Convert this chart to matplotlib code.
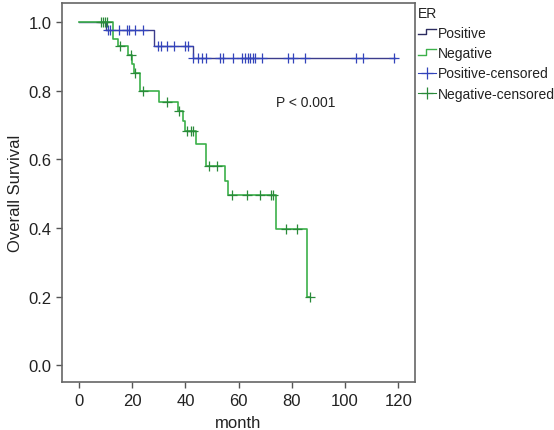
import matplotlib
matplotlib.use("Agg")
import matplotlib.pyplot as plt
from matplotlib.lines import Line2D
from matplotlib.legend_handler import HandlerBase

plt.rcParams['font.family'] = ['Liberation Sans', 'DejaVu Sans']

# ER positive: step curve (event times, survival after event)
pos_step_x = [0, 10.2, 28.3, 42.7, 118.8]
pos_step_y = [1.0, 0.978, 0.930, 0.895, 0.895]
pos_cens_x = [11, 11.7, 15, 17.9, 18.8, 21, 24.2,
              29.8, 30.7, 33, 35.8, 40, 40.8,
              43, 44.6, 46.1, 47.6, 53, 54, 58, 61.2, 62.5, 63.4, 64.3,
              65.3, 66.1, 68.9, 78.7, 80.6, 85, 104.1, 106.9, 118.5]
pos_cens_y = [0.978] * 7 + [0.930] * 6 + [0.895] * 20

# ER negative
neg_step_x = [0, 12.9, 14.5, 18.5, 20.0, 20.8, 22.9, 30.1, 37.3, 39.0,
              39.8, 43.9, 47.7, 54.9, 56.1, 74.1, 85.8, 86.8]
neg_step_y = [1.0, 0.951, 0.929, 0.903, 0.878, 0.851, 0.799, 0.768, 0.742,
              0.713, 0.682, 0.645, 0.580, 0.538, 0.497, 0.396, 0.200, 0.200]
neg_cens_x = [8.3, 9.0, 9.8, 10.6, 15.4, 19.6, 21.0, 24.2, 33.2, 37.7,
              40.7, 42, 43, 49, 52, 57.6, 63, 68, 72.2, 73, 77.8, 81.8, 86.8]
neg_cens_y = [1.0] * 4 + [0.929, 0.903, 0.851, 0.799, 0.768, 0.742] + \
             [0.682] * 3 + [0.580] * 2 + [0.497] * 5 + [0.396] * 2 + [0.200]

x_ticks = [0, 20, 40, 60, 80, 100, 120]
y_ticks = [0.0, 0.2, 0.4, 0.6, 0.8, 1.0]

pos_line_c = '#3c3c8c'
pos_cens_c = '#3344bb'
neg_line_c = '#3cb04a'
neg_cens_c = '#2a8a3a'


class StepHandler(HandlerBase):
    # little step icon like the SPSS legend
    def create_artists(self, legend, orig, xd, yd, w, h, fontsize, trans):
        xs = [xd, xd + w * 0.45, xd + w * 0.45, xd + w]
        ys = [yd + h * 0.25, yd + h * 0.25, yd + h * 0.8, yd + h * 0.8]
        ln = Line2D(xs, ys, color=orig.get_color(), lw=1.0, transform=trans)
        return [ln]


fig = plt.figure(figsize=(5.54, 4.31), dpi=100)
ax = fig.add_axes([0.112, 0.111, 0.637, 0.880])

ax.step(pos_step_x, pos_step_y, where='post', color=pos_line_c, lw=1.0)
ax.step(neg_step_x, neg_step_y, where='post', color=neg_line_c, lw=1.2)
ax.plot(pos_cens_x, pos_cens_y, ls='none', marker='+', ms=7, mew=0.9, color=pos_cens_c)
ax.plot(neg_cens_x, neg_cens_y, ls='none', marker='+', ms=7, mew=0.9, color=neg_cens_c)

ax.set_xlim(-6.4, 126.3)
ax.set_ylim(-0.049, 1.056)
ax.set_xticks(x_ticks)
ax.set_yticks(y_ticks)
ax.set_yticklabels(['%.1f' % v for v in y_ticks])
ax.tick_params(direction='out', length=4, width=1, colors='#555555',
               labelcolor='#222222', labelsize=12)
for s in ax.spines.values():
    s.set_color('#666666')
    s.set_linewidth(1.2)

ax.set_xlabel('month', fontsize=12, color='#222222', labelpad=5)
ax.set_ylabel('Overall Survival', fontsize=12, color='#222222', labelpad=4)

ax.text(85.2, 0.767, 'P < 0.001', fontsize=10, ha='center', va='center', color='#222222')

handles = [Line2D([], [], color='#2c2c60'),
           Line2D([], [], color=neg_line_c),
           Line2D([], [], ls='-', lw=0.8, marker='+', ms=8, mew=0.9, color=pos_cens_c),
           Line2D([], [], ls='-', lw=0.8, marker='+', ms=8, mew=0.9, color=neg_cens_c)]
labels = ['Positive', 'Negative', 'Positive-censored', 'Negative-censored']
leg = ax.legend(handles, labels, title='ER', loc='upper left',
                bbox_to_anchor=(1.0, 1.0), frameon=False, fontsize=10,
                title_fontsize=10, handlelength=1.3, handletextpad=0.15,
                labelspacing=0.45, borderaxespad=0.0, borderpad=0.2,
                numpoints=1,
                handler_map={handles[0]: StepHandler(), handles[1]: StepHandler()})
leg._legend_box.align = 'left'
leg.get_title().set_color('#222222')
for t in leg.get_texts():
    t.set_color('#222222')

fig.savefig('out.png', dpi=100)
